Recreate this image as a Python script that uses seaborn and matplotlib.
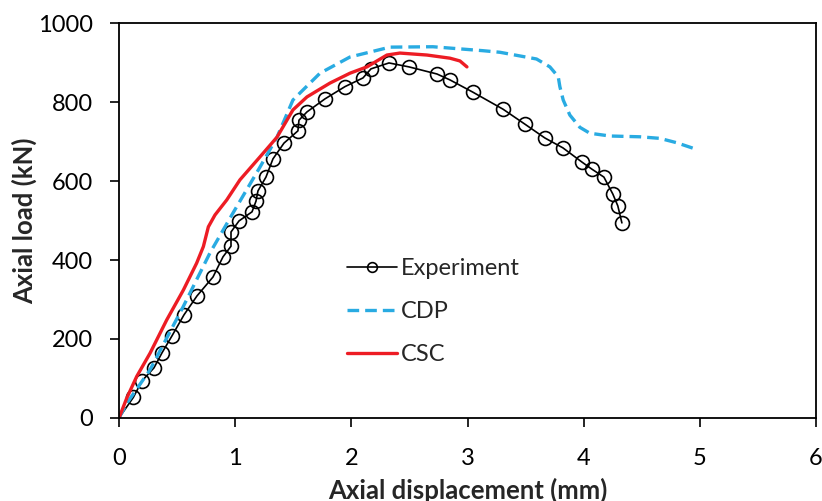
import pandas as pd
import matplotlib.pyplot as plt
import seaborn as sns

# Experiment (measured points)
exp_disp = [0.0, 0.123, 0.198, 0.301, 0.370, 0.456, 0.559, 0.671, 0.809, 0.895, 0.964, 0.964,
            1.033, 1.145, 1.179, 1.196, 1.265, 1.325, 1.420, 1.540, 1.549, 1.618, 1.773, 1.945,
            2.100, 2.169, 2.324, 2.496, 2.737, 2.849, 3.046, 3.305, 3.494, 3.666, 3.821, 3.985,
            4.071, 4.174, 4.251, 4.294, 4.329]
exp_load = [0, 52, 94, 127, 165, 208, 261, 309, 357, 408, 435, 471,
            499, 522, 549, 575, 610, 656, 696, 727, 754, 775, 808, 839,
            861, 884, 899, 889, 871, 856, 825, 782, 744, 709, 684, 648,
            630, 610, 567, 537, 494]

# CDP model
cdp_disp = [0.0, 0.069, 0.267, 0.551, 0.783, 0.981, 1.213, 1.360, 1.497, 1.558, 1.730, 1.988,
            2.332, 2.702, 3.133, 3.279, 3.594, 3.709, 3.781, 3.795, 3.824, 3.881, 3.967, 4.053,
            4.226, 4.484, 4.656, 4.800, 4.942]
cdp_load = [0, 38, 122, 281, 418, 519, 635, 711, 805, 823, 873, 914,
            939, 940, 930, 926, 909, 889, 864, 839, 805, 767, 736, 721,
            714, 712, 708, 697, 683]

# CSC model
csc_disp = [0.0, 0.066, 0.152, 0.267, 0.410, 0.554, 0.668, 0.726, 0.769, 0.826, 0.927, 1.041,
            1.213, 1.360, 1.497, 1.618, 1.816, 1.988, 2.134, 2.306, 2.418, 2.651, 2.849, 2.935,
            2.995]
csc_load = [0, 50, 105, 164, 248, 324, 392, 434, 484, 514, 552, 603,
            661, 711, 780, 813, 848, 873, 889, 919, 924, 919, 911, 904,
            889]

df_exp = pd.DataFrame({'disp': exp_disp, 'load': exp_load})
df_cdp = pd.DataFrame({'disp': cdp_disp, 'load': cdp_load})
df_csc = pd.DataFrame({'disp': csc_disp, 'load': csc_load})

sns.set_style('ticks')
plt.rcParams['font.family'] = ['Lato', 'DejaVu Sans']

fig = plt.figure(figsize=(8.22, 5.01), dpi=100)
ax = fig.add_axes([0.1448, 0.1657, 0.8479, 0.7883])

sns.lineplot(data=df_exp, x='disp', y='load', ax=ax, sort=False, estimator=None, color='black',
             lw=1.2, marker='o', markersize=10, markerfacecolor='none', markeredgecolor='black',
             markeredgewidth=1.2, markevery=slice(1, None), label='Experiment')
sns.lineplot(data=df_cdp, x='disp', y='load', ax=ax, sort=False, estimator=None, color='#29abe2',
             lw=2.4, linestyle=(0, (3.5, 1.8)), label='CDP')
sns.lineplot(data=df_csc, x='disp', y='load', ax=ax, sort=False, estimator=None, color='#ed1c24',
             lw=2.4, label='CSC')

ax.set_xlim(0, 6)
ax.set_ylim(0, 1000)
ax.set_xticks(range(0, 7, 1))
ax.set_yticks(range(0, 1001, 200))
ax.tick_params(axis='both', labelsize=17, length=6.5, width=1.2, direction='out', colors='black')
ax.tick_params(axis='x', pad=15)
ax.tick_params(axis='y', pad=12)
for s in ax.spines.values():
    s.set_linewidth(1.3)
    s.set_color('black')
ax.set_xlabel('Axial displacement (mm)', fontsize=18.5, fontweight='bold', labelpad=6)
ax.set_ylabel('Axial load (kN)', fontsize=18.5, fontweight='bold', labelpad=1)

leg = ax.legend(loc='upper left', bbox_to_anchor=(0.327, 0.405), frameon=False, fontsize=17,
                handlelength=2.1, handletextpad=0.2, labelspacing=0.94, borderaxespad=0, borderpad=0)
for h in leg.get_lines():
    h.set_markevery([1])
leg.get_lines()[0].set_markersize(7)

fig.savefig('out.png', dpi=100)
